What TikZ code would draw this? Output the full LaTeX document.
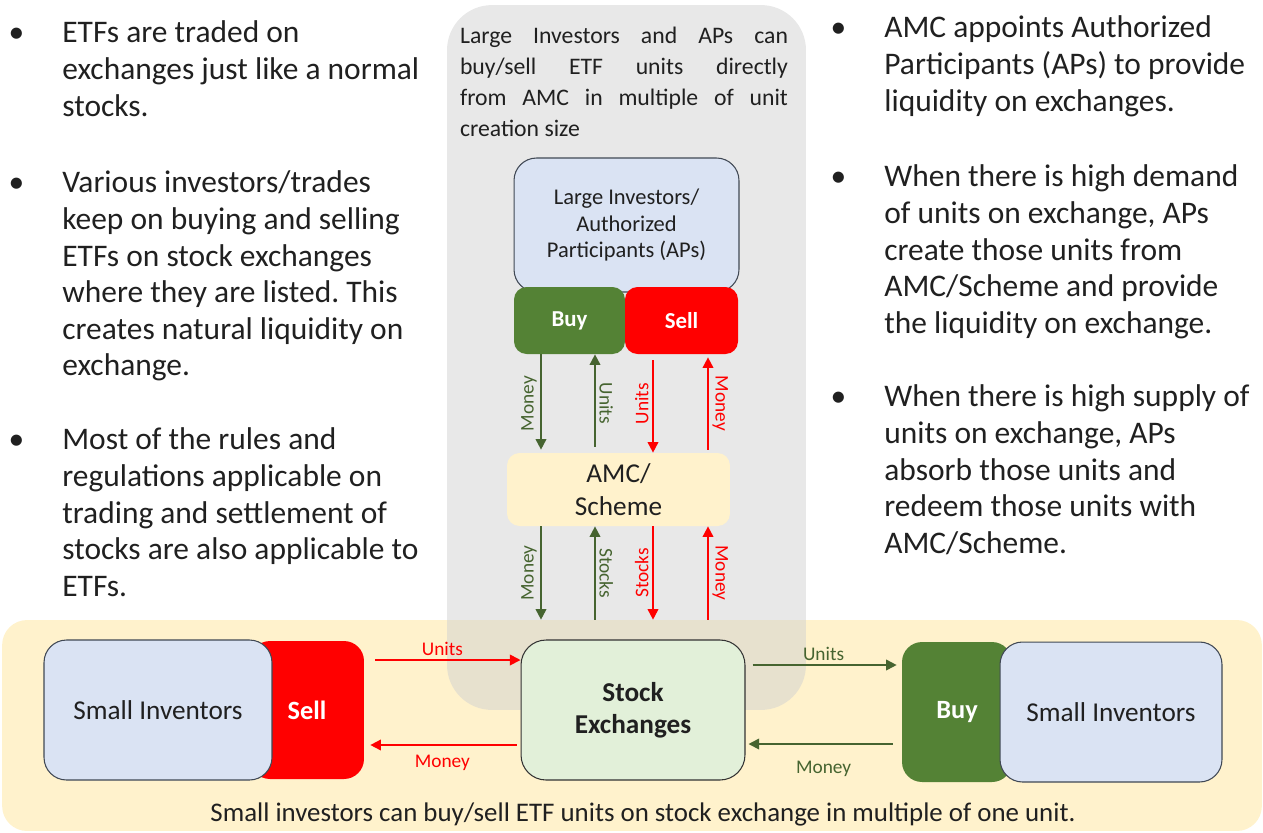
\documentclass[tikz,border=0pt]{standalone}
\usepackage{fontspec}
\setmainfont{Carlito}
\usetikzlibrary{arrows.meta}
\definecolor{apgray}{RGB}{209,209,209}
\definecolor{bandyellow}{RGB}{255,242,204}
\definecolor{boxblue}{RGB}{218,227,243}
\definecolor{boxline}{RGB}{64,72,84}
\definecolor{buygreen}{RGB}{84,130,53}
\definecolor{arrowgreen}{RGB}{70,100,48}
\definecolor{sellred}{RGB}{255,0,0}
\definecolor{exchgreen}{RGB}{226,240,217}
\definecolor{txt}{RGB}{32,32,32}
\newcommand{\spread}[1]{\makebox[6.56cm][s]{#1}}
\newcommand{\bul}{\llap{\textbullet\hspace{0.76cm}}}
\frenchspacing

\begin{document}
\begin{tikzpicture}[x=0.02cm, y=-0.02cm]
  \tikzset{every node/.style={text=txt},
    box/.style={draw=boxline, line width=0.6pt, rounded corners=0.45cm, align=center},
    tag/.style={rounded corners=0.25cm, text=white, font=\bfseries\fontsize{13}{15}\selectfont},
    garr/.style={draw=arrowgreen, line width=1pt, -{Triangle[length=6pt,width=6pt]}},
    rarr/.style={draw=sellred, line width=1pt, -{Triangle[length=6pt,width=6pt]}},
    glab/.style={text=arrowgreen, font=\fontsize{11}{12}\selectfont, inner sep=2pt},
    rlab/.style={glab, text=sellred},
    side/.style={anchor=north west, align=left, inner sep=0pt, font=\fontsize{17.9}{20.8}\selectfont}}
  \useasboundingbox (0,0) rectangle (1263,832);
  % backgrounds
  \node (band) [fill=bandyellow, rounded corners=0.5cm, minimum width=25.2cm, minimum height=4.22cm] at (632,725.5) {};
  \node (apbox) [fill=apgray, fill opacity=0.5, rounded corners=0.9cm, minimum width=7.18cm, minimum height=14.1cm] at (626.5,357.5) {};
  \node (note) [anchor=north, align=left, inner sep=0pt, font=\fontsize{13.5}{17.6}\selectfont] at (624,22)
    {\rule{0pt}{12pt}\spread{Large Investors and APs can}\\ \spread{buy/sell ETF units directly}\\
     \spread{from AMC in multiple of unit}\\ creation size\hfill};
  % large investors and the AMC
  \node (large) [box, fill=boxblue, font=\fontsize{12.8}{15.3}\selectfont, minimum width=4.5cm, minimum height=2.68cm] at (626.5,225)
    {Large Investors/\\Authorized\\Participants (APs)};
  \node (buy) [tag, fill=buygreen, minimum width=2.22cm, minimum height=1.34cm] at (569.5,320.5) {Buy};
  \node (sell) [tag, fill=sellred, minimum width=2.26cm, minimum height=1.34cm] at (681.5,320.5) {Sell};
  \node (amc) [fill=bandyellow, rounded corners=0.25cm, align=center, font=\fontsize{15.5}{18.8}\selectfont,
    minimum width=4.46cm, minimum height=1.46cm] at (618.5,489.5) {AMC/\\Scheme};
  % exchange and small investors
  \node (exch) [box, fill=exchgreen, draw=black!80, rounded corners=0.5cm, font=\bfseries\fontsize{15.5}{18.2}\selectfont,
    minimum width=4.48cm, minimum height=2.8cm] at (633,710) {Stock\\Exchanges};
  \node (sell2) [tag, fill=sellred, rounded corners=0.4cm, font=\bfseries\fontsize{15}{18}\selectfont,
    minimum width=2.28cm, minimum height=2.76cm] at (307,710) {Sell};
  \node (small1) [box, fill=boxblue, font=\fontsize{15.5}{18}\selectfont, minimum width=4.56cm, minimum height=2.8cm] at (158,710) {Small Inventors};
  \node (buy2) [tag, fill=buygreen, rounded corners=0.4cm, font=\bfseries\fontsize{15}{18}\selectfont,
    minimum width=2.2cm, minimum height=2.8cm] at (957,712) {Buy};
  \node (small2) [box, fill=boxblue, font=\fontsize{15.5}{18}\selectfont, minimum width=4.44cm, minimum height=2.8cm] at (1111,712) {Small Inventors};
  \node (foot) [font=\fontsize{15.3}{18}\selectfont] at (643,814)
    {Small investors can buy/sell ETF units on stock exchange in multiple of one unit.};
  % columns and rows for the arrows
  \coordinate (c1) at (541,0);
  \coordinate (c2) at (595,0);
  \coordinate (c3) at (653,0);
  \coordinate (c4) at (708,0);
  \coordinate (r1) at (0,660);
  \coordinate (r2) at (0,745);
  \coordinate (r3) at (0,665);
  \coordinate (r4) at (0,744);
  \draw[garr, shorten >=0.06cm] (buy.south -| c1) -- node[glab, rotate=90, anchor=south] {Money} (amc.north -| c1);
  \draw[garr, shorten <=0.12cm] (amc.north -| c2) -- node[glab, rotate=-90, anchor=south] {Units} (buy.south -| c2);
  \draw[rarr, shorten <=0.12cm] (sell.south -| c3) -- node[rlab, rotate=90, anchor=south] {Units} (amc.north -| c3);
  \draw[rarr, shorten <=0.06cm, shorten >=0.06cm] (amc.north -| c4) -- node[rlab, rotate=-90, anchor=south] {Money} (sell.south -| c4);
  \draw[garr] (amc.south -| c1) -- node[glab, rotate=90, anchor=south] {Money} (band.north -| c1);
  \draw[garr] (band.north -| c2) -- node[glab, rotate=-90, anchor=south] {Stocks} (amc.south -| c2);
  \draw[rarr] (amc.south -| c3) -- node[rlab, rotate=90, anchor=south] {Stocks} (band.north -| c3);
  \draw[rarr] (band.north -| c4) -- node[rlab, rotate=-90, anchor=south] {Money} (amc.south -| c4);
  \draw[rarr, shorten <=0.22cm] (sell2.east |- r1) -- node[rlab, above] {Units} (exch.west |- r1);
  \draw[rarr, shorten <=0.08cm, shorten >=0.12cm] (exch.west |- r2) -- node[rlab, below=3pt] {Money} (sell2.east |- r2);
  \draw[garr, shorten <=0.14cm, shorten >=0.1cm] (exch.east |- r3) -- node[glab, above] {Units} (buy2.west |- r3);
  \draw[garr, shorten <=0.18cm, shorten >=0.06cm] (buy2.west |- r4) -- node[glab, below=7pt] {Money} (exch.east |- r4);
  % side notes
  \node (left1) [side] at (62,18) {\rule{0pt}{14pt}\bul ETFs are traded on\\exchanges just like a normal\\stocks.};
  \node (left2) [side] at (62,168) {\rule{0pt}{14pt}\bul Various investors/trades\\keep on buying and selling\\ETFs on stock exchanges\\where they are listed. This\\creates natural liquidity on\\exchange.};
  \node (left3) [side] at (62,425) {\rule{0pt}{14pt}\bul Most of the rules and\\regulations applicable on\\trading and settlement of\\stocks are also applicable to\\ETFs.};
  \node (right1) [side] at (884,13) {\rule{0pt}{14pt}\bul AMC appoints Authorized\\Participants (APs) to provide\\liquidity on exchanges.};
  \node (right2) [side] at (884,162) {\rule{0pt}{14pt}\bul When there is high demand\\of units on exchange, APs\\create those units from\\AMC/Scheme and provide\\the liquidity on exchange.};
  \node (right3) [side] at (884,382) {\rule{0pt}{14pt}\bul When there is high supply of\\units on exchange, APs\\absorb those units and\\redeem those units with\\AMC/Scheme.};
\end{tikzpicture}
\end{document}
